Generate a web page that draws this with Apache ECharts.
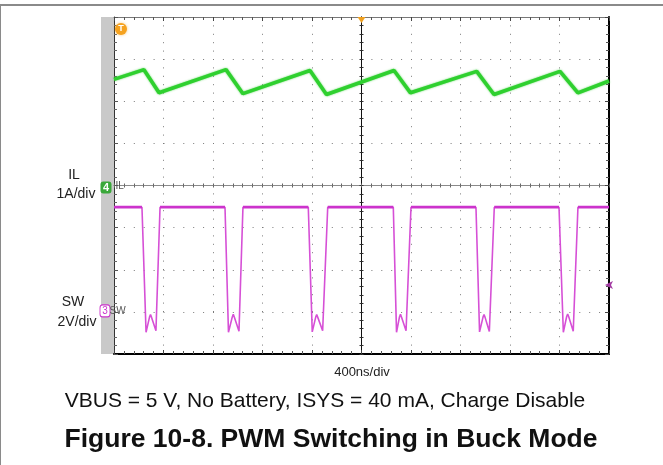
<!DOCTYPE html>
<html>
<head>
<meta charset="utf-8">
<script src="https://cdn.jsdelivr.net/npm/echarts@6/dist/echarts.min.js"></script>
<style>
  html, body { margin: 0; padding: 0; background: #fff; }
  #chart { width: 663px; height: 465px; }
</style>
</head>
<body>
<div id="chart"></div>
<script>
// Horizontal scale: time in ns relative to the trigger point, 400 ns/div, 10 div
const timeMin = -2000;
const timeMax = 2000;
const timePerDiv = 400;

// IL channel: 1 A/div, ground at screen centre
const ilPerDiv = 1;
const ilTime = [-2000, -1758, -1636, -1095, -958, -416, -283, 263, 396, 931, 1071, 1604, 1749, 2000];
const ilAmps = [2.52, 2.75, 2.20, 2.75, 2.18, 2.73, 2.16, 2.73, 2.20, 2.71, 2.16, 2.71, 2.20, 2.48];

// SW channel: 2 V/div, ground one division above the bottom edge
const swPerDiv = 2;
const swTime = [
  -2000,
  -1774, -1741, -1713, -1705, -1697, -1661, -1628,
  -1103, -1075, -1044, -1036, -1028, -990, -958,
  -430, -398, -370, -362, -354, -314, -273,
  257, 283, 307, 315, 323, 360, 400,
  925, 954, 982, 990, 998, 1033, 1073,
  1596, 1631, 1658, 1666, 1674, 1711, 1749,
  2000
];
const swVolts = [
  4.97,
  4.97, -0.97, -0.25, -0.13, -0.25, -0.90, 4.97,
  4.97, -0.97, -0.24, -0.12, -0.24, -0.92, 4.97,
  4.97, -0.95, -0.25, -0.13, -0.25, -0.90, 4.97,
  4.97, -0.97, -0.24, -0.12, -0.24, -0.90, 4.97,
  4.97, -0.95, -0.25, -0.13, -0.25, -0.93, 4.97,
  4.97, -0.97, -0.22, -0.10, -0.22, -0.92, 4.97,
  4.97
];

// SW trigger level marker (V)
const swTrigLevel = 1.28;

const ilData = ilTime.map((t, i) => [t, ilAmps[i]]);
const swData = swTime.map((t, i) => [t, swVolts[i]]);
// high-level plateaus drawn a bit heavier, as on the scope screen
const swHigh = swTime.map((t, i) => (swVolts[i] > 4 ? [t, swVolts[i]] : [t, null]));

const FONT = "'Liberation Sans', Arial, sans-serif";
const GREEN = '#2fd02f';
const MAGENTA = '#cc33cc';

const chart = echarts.init(document.getElementById('chart'), null, { renderer: 'canvas' });

const xBase = { type: 'value', min: timeMin, max: timeMax, interval: timePerDiv, axisLabel: { show: false }, splitLine: { show: false } };
const yBase = { type: 'value', min: -4 * ilPerDiv, max: 4 * ilPerDiv, interval: ilPerDiv, axisLabel: { show: false }, splitLine: { show: false } };
const minor = (len, color) => ({ show: true, splitNumber: 5, length: len, lineStyle: { color: color, width: 1 } });

chart.setOption({
  animation: false,
  backgroundColor: '#fff',
  grid: { left: 114, top: 17, width: 495, height: 337, containLabel: false },
  xAxis: [
    // centre horizontal graticule line (lower ticks) + vertical dotted grid
    Object.assign({}, xBase, {
      position: 'bottom',
      axisLine: { onZero: true, onZeroAxisIndex: 0, lineStyle: { color: '#8a8a8a', width: 1 } },
      axisTick: { show: true, inside: false, length: 2, lineStyle: { color: '#666' } },
      minorTick: minor(2, '#666'),
      splitLine: { show: true, lineStyle: { color: '#7a7a7a', width: 1, type: [1, 7.4] } }
    }),
    // centre horizontal graticule line (upper ticks)
    Object.assign({}, xBase, {
      position: 'top',
      axisLine: { onZero: true, onZeroAxisIndex: 0, lineStyle: { color: '#8a8a8a', width: 1 } },
      axisTick: { show: true, inside: false, length: 2, lineStyle: { color: '#666' } },
      minorTick: minor(2, '#666')
    }),
    // top edge
    Object.assign({}, xBase, {
      position: 'top',
      axisLine: { onZero: false, lineStyle: { color: '#777', width: 1 } },
      axisTick: { show: true, inside: true, length: 4, lineStyle: { color: '#444' } },
      minorTick: minor(3, '#555')
    }),
    // bottom edge
    Object.assign({}, xBase, {
      position: 'bottom',
      axisLine: { onZero: false, lineStyle: { color: '#000', width: 2 } },
      axisTick: { show: true, inside: true, length: 4, lineStyle: { color: '#444' } },
      minorTick: minor(3, '#555')
    })
  ],
  yAxis: [
    // IL scale; centre vertical graticule line (left ticks) + horizontal dotted grid
    Object.assign({}, yBase, {
      position: 'left',
      axisLine: { onZero: true, onZeroAxisIndex: 0, lineStyle: { color: '#111', width: 1 } },
      axisTick: { show: true, inside: false, length: 2, lineStyle: { color: '#333' } },
      minorTick: minor(2, '#333'),
      splitLine: { show: true, lineStyle: { color: '#7a7a7a', width: 1, type: [1, 8.9] } }
    }),
    // SW scale
    { type: 'value', min: -1 * swPerDiv, max: 7 * swPerDiv, interval: swPerDiv, show: false },
    // centre vertical graticule line (right ticks)
    Object.assign({}, yBase, {
      position: 'right',
      axisLine: { onZero: true, onZeroAxisIndex: 0, lineStyle: { color: '#111', width: 1 } },
      axisTick: { show: true, inside: false, length: 2, lineStyle: { color: '#333' } },
      minorTick: minor(2, '#333')
    }),
    // right edge
    Object.assign({}, yBase, {
      position: 'right',
      axisLine: { onZero: false, lineStyle: { color: '#000', width: 2 } },
      axisTick: { show: true, inside: true, length: 4, lineStyle: { color: '#444' } },
      minorTick: minor(3, '#555')
    }),
    // left edge
    Object.assign({}, yBase, {
      position: 'left',
      axisLine: { onZero: false, lineStyle: { color: '#333', width: 1 } },
      axisTick: { show: true, inside: true, length: 4, lineStyle: { color: '#555' } },
      minorTick: minor(3, '#666')
    }),
    // grey channel-marker strip beside the left edge
    Object.assign({}, yBase, {
      position: 'left',
      offset: 7,
      axisLine: { onZero: false, lineStyle: { color: '#c9c9c9', width: 13, cap: 'butt' } },
      axisTick: { show: false }
    })
  ],
  series: [
    {
      name: 'IL',
      type: 'line',
      xAxisIndex: 0,
      yAxisIndex: 0,
      data: ilData,
      symbol: 'none',
      z: 5,
      lineStyle: { color: GREEN, width: 3.6, shadowBlur: 2, shadowColor: 'rgba(40,200,40,0.7)' },
      markPoint: {
        silent: true,
        animation: false,
        data: [
          // channel 4 ground badge
          { coord: [timeMin, 0], symbol: 'roundRect', symbolSize: [11, 12], symbolOffset: [-8, 2],
            itemStyle: { color: '#3aa83a' },
            label: { show: true, position: 'inside', formatter: '4', color: '#fff', fontSize: 11, fontFamily: FONT, fontWeight: 'bold' } },
          { coord: [timeMin, 0], symbol: 'circle', symbolSize: 1, itemStyle: { color: 'rgba(0,0,0,0)' },
            label: { show: true, position: 'right', distance: 1, offset: [0, 1], formatter: 'IL', color: '#555', fontSize: 10, fontFamily: FONT } },
          // trigger position
          { coord: [0, 4 * ilPerDiv], symbol: 'triangle', symbolRotate: 180, symbolSize: [8, 6], symbolOffset: [0, 3],
            itemStyle: { color: '#f0a020' }, label: { show: false } },
          // trigger badge
          { coord: [timeMin, 4 * ilPerDiv], symbol: 'circle', symbolSize: 12, symbolOffset: [7, 12],
            itemStyle: { color: '#f5a21f', shadowBlur: 3, shadowColor: 'rgba(245,162,31,0.6)' },
            label: { show: true, position: 'inside', formatter: 'T', color: '#fff', fontSize: 9, fontWeight: 'bold', fontFamily: FONT } }
        ]
      }
    },
    {
      name: 'SW',
      type: 'line',
      xAxisIndex: 0,
      yAxisIndex: 1,
      data: swData,
      symbol: 'none',
      z: 4,
      lineStyle: { color: '#d650d6', width: 1.6 },
      markPoint: {
        silent: true,
        animation: false,
        data: [
          // channel 3 ground badge
          { coord: [timeMin, 0], symbol: 'roundRect', symbolSize: [10, 12], symbolOffset: [-9, -1],
            itemStyle: { color: '#fff', borderColor: MAGENTA, borderWidth: 1 },
            label: { show: true, position: 'inside', formatter: '3', color: MAGENTA, fontSize: 10, fontFamily: FONT } },
          { coord: [timeMin, 0], symbol: 'circle', symbolSize: 1, itemStyle: { color: 'rgba(0,0,0,0)' },
            label: { show: true, position: 'right', distance: 0, offset: [-5, -1], formatter: 'SW', color: '#555', fontSize: 10, fontFamily: FONT } },
          // trigger level
          { coord: [timeMax, swTrigLevel], symbol: 'arrow', symbolRotate: 90, symbolSize: [6, 8], symbolOffset: [-4, 0],
            itemStyle: { color: '#a23aa2' }, label: { show: false } }
        ]
      }
    },
    {
      name: 'SW high',
      type: 'line',
      xAxisIndex: 0,
      yAxisIndex: 1,
      data: swHigh,
      connectNulls: false,
      symbol: 'none',
      z: 4,
      lineStyle: { color: MAGENTA, width: 2.8 }
    }
  ],
  graphic: [
    { type: 'line', shape: { x1: 0, y1: 5, x2: 663, y2: 5 }, style: { stroke: '#8a8a8a', lineWidth: 2 } },
    { type: 'line', shape: { x1: 0.5, y1: 5, x2: 0.5, y2: 465 }, style: { stroke: '#8a8a8a', lineWidth: 1 } },
    { type: 'text', x: 74, y: 175, style: { text: 'IL', font: '14px ' + FONT, fill: '#222', textAlign: 'center', textVerticalAlign: 'middle' } },
    { type: 'text', x: 76, y: 194, style: { text: '1A/div', font: '14px ' + FONT, fill: '#222', textAlign: 'center', textVerticalAlign: 'middle' } },
    { type: 'text', x: 73, y: 302, style: { text: 'SW', font: '14px ' + FONT, fill: '#222', textAlign: 'center', textVerticalAlign: 'middle' } },
    { type: 'text', x: 77, y: 322, style: { text: '2V/div', font: '14px ' + FONT, fill: '#222', textAlign: 'center', textVerticalAlign: 'middle' } },
    { type: 'text', x: 362, y: 372, style: { text: '400ns/div', font: '13px ' + FONT, fill: '#222', textAlign: 'center', textVerticalAlign: 'middle' } },
    { type: 'text', x: 325, y: 401, style: { text: 'VBUS = 5 V, No Battery, ISYS = 40 mA, Charge Disable', font: '21px ' + FONT, fill: '#111', textAlign: 'center', textVerticalAlign: 'middle' } },
    { type: 'text', x: 331, y: 440, style: { text: 'Figure 10-8. PWM Switching in Buck Mode', font: 'bold 26.5px ' + FONT, fill: '#111', textAlign: 'center', textVerticalAlign: 'middle' } }
  ]
});
</script>
</body>
</html>
